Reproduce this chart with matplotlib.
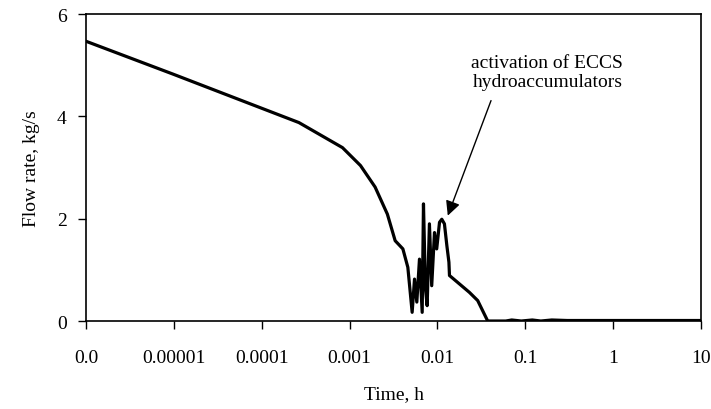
import numpy as np
import matplotlib.pyplot as plt
from matplotlib.ticker import FixedLocator, NullLocator

plt.rcParams['font.family'] = ['Liberation Serif', 'DejaVu Serif']
plt.rcParams['font.size'] = 14

# time, h (log axis, "0.0" stands for 1e-6) and flow rate, kg/s
time_h = [1e-6, 9.7e-6, 2.65e-4, 8.3e-4, 1.33e-3, 1.95e-3, 2.69e-3, 3.3e-3,
          4.04e-3, 4.6e-3, 5.15e-3, 5.48e-3, 5.82e-3, 6.24e-3, 6.7e-3,
          6.93e-3, 7.3e-3, 7.63e-3, 8.1e-3, 8.6e-3, 9.25e-3, 9.8e-3,
          1.055e-2, 1.12e-2, 1.2e-2, 1.28e-2, 1.35e-2, 1.37e-2, 2.31e-2,
          2.87e-2, 3.73e-2, 0.06, 0.07, 0.09, 0.12, 0.15, 0.2, 0.3, 1.0, 10.0]
flow = [5.47, 4.83, 3.88, 3.39, 3.04, 2.62, 2.09, 1.57,
        1.41, 1.05, 0.17, 0.82, 0.37, 1.21, 0.17,
        2.29, 0.63, 0.30, 1.90, 0.69, 1.73, 1.41,
        1.93, 1.99, 1.90, 1.47, 1.15, 0.89, 0.56,
        0.40, 0.0, 0.0, 0.02, 0.0, 0.02, 0.0, 0.02, 0.01, 0.01, 0.01]

tick_pos = [1e-6, 1e-5, 1e-4, 1e-3, 1e-2, 1e-1, 1, 10]
tick_lbl = ["0.0", "0.00001", "0.0001", "0.001", "0.01", "0.1", "1", "10"]

fig = plt.figure(figsize=(7.11, 4.10), dpi=100)
ax = fig.add_axes([0.121, 0.2146, 0.865, 0.7484])

ax.plot(time_h, flow, color='black', linewidth=2.3, solid_joinstyle='round')

ax.set_xscale('log')
ax.set_xlim(1e-6, 10)
ax.set_ylim(0, 6)
ax.xaxis.set_major_locator(FixedLocator(tick_pos))
ax.xaxis.set_minor_locator(NullLocator())
ax.set_xticklabels(tick_lbl)
ax.set_yticks([0, 2, 4, 6])

ax.tick_params(direction='out', length=6, width=1, pad=8)
ax.tick_params(axis='x', pad=14)
for s in ax.spines.values():
    s.set_linewidth(1.2)

ax.set_xlabel("Time, h", labelpad=14)
ax.set_ylabel("Flow rate, kg/s", labelpad=12)

ax.text(0.178, 4.87, "activation of ECCS\nhydroaccumulators",
        ha='center', va='center', linespacing=1.15)
ax.annotate('', xy=(0.0131, 2.06), xytext=(0.0407, 4.31),
            arrowprops=dict(arrowstyle='-|>', color='black', lw=1,
                            mutation_scale=22, shrinkA=0, shrinkB=0))

fig.savefig("out.png", dpi=100)
